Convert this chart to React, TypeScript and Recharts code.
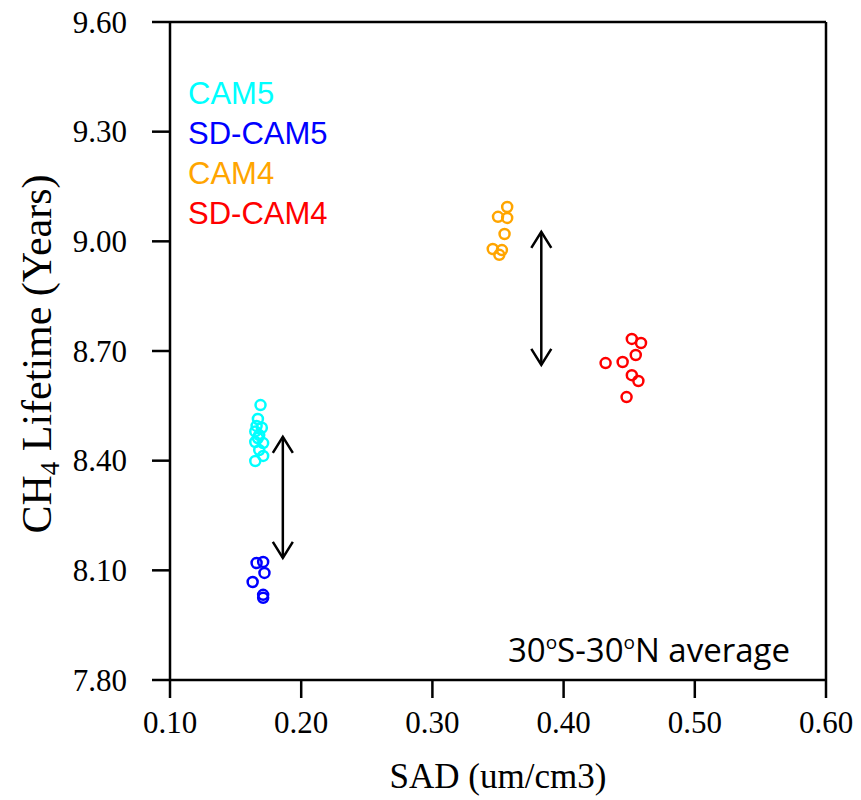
import React from "react";
import {
  ScatterChart,
  Scatter,
  XAxis,
  YAxis,
  ReferenceLine,
  Legend,
} from "recharts";

// SAD (um/cm3) and CH4 lifetime (years)
const cam5Sad = [0.169, 0.167, 0.166, 0.17, 0.165, 0.168, 0.167, 0.165, 0.171, 0.168, 0.171, 0.165];
const cam5Life = [8.552, 8.514, 8.495, 8.49, 8.48, 8.47, 8.462, 8.451, 8.448, 8.429, 8.413, 8.399];

const sdCam5Sad = [0.166, 0.171, 0.172, 0.163, 0.171, 0.171];
const sdCam5Life = [8.12, 8.123, 8.093, 8.068, 8.033, 8.025];

const cam4Sad = [0.357, 0.35, 0.357, 0.355, 0.346, 0.353, 0.351];
const cam4Life = [9.094, 9.067, 9.064, 9.02, 8.979, 8.976, 8.963];

const sdCam4Sad = [0.452, 0.459, 0.455, 0.432, 0.445, 0.452, 0.457, 0.448];
const sdCam4Life = [8.733, 8.722, 8.689, 8.667, 8.67, 8.634, 8.618, 8.574];

// double arrows: [sad, top, bottom]
const arrowCam5 = [0.186, 8.465, 8.134];
const arrowCam4 = [0.383, 9.026, 8.662];

const xTicks = [0.1, 0.2, 0.3, 0.4, 0.5, 0.6];
const yTicks = [7.8, 8.1, 8.4, 8.7, 9.0, 9.3, 9.6];

const toPoints = (xs: number[], ys: number[]) => xs.map((x, i) => ({ x, y: ys[i] }));

const series = [
  { name: "CAM5", color: "#00FFFF", data: toPoints(cam5Sad, cam5Life) },
  { name: "SD-CAM5", color: "#0000FF", data: toPoints(sdCam5Sad, sdCam5Life) },
  { name: "CAM4", color: "#FFA500", data: toPoints(cam4Sad, cam4Life) },
  { name: "SD-CAM4", color: "#FF0000", data: toPoints(sdCam4Sad, sdCam4Life) },
];

const serif = "'Liberation Serif', 'Times New Roman', serif";
const LW = 2.5;

const ring = (color: string) => (p: any) =>
  <circle cx={p.cx} cy={p.cy} r={5} fill="none" stroke={color} strokeWidth={2.5} />;

const Arrow = (p: any) => {
  const { x1, y1, x2, y2 } = p;
  const head = (x: number, y: number, dir: number) => (
    <polyline
      points={`${x - 10},${y + dir * 16} ${x},${y} ${x + 10},${y + dir * 16}`}
      fill="none"
      stroke="#000"
      strokeWidth={LW}
    />
  );
  const top = Math.min(y1, y2);
  const bot = Math.max(y1, y2);
  return (
    <g>
      <line x1={x1} y1={y1} x2={x2} y2={y2} stroke="#000" strokeWidth={LW} />
      {head(x1, top, 1)}
      {head(x1, bot, -1)}
    </g>
  );
};

const XTick = (p: any) => (
  <text x={p.x} y={p.y} dy="0.71em" textAnchor="middle" fontFamily={serif} fontSize={31} fill="#000">
    {p.payload.value.toFixed(2)}
  </text>
);

const YTick = (p: any) => (
  <text x={p.x} y={p.y} dy="0.34em" textAnchor="end" fontFamily={serif} fontSize={31} fill="#000">
    {p.payload.value.toFixed(2)}
  </text>
);

const YLabel = (props: any) => {
  const { viewBox } = props;
  const cx = 51;
  const cy = viewBox.y + viewBox.height / 2 + 3;
  return (
    <text
      x={cx}
      y={cy}
      transform={`rotate(-90, ${cx}, ${cy})`}
      textAnchor="middle"
      fontFamily={serif}
      fontSize={42}
      fill="#000"
    >
      CH<tspan fontSize={27} dy={8}>4</tspan>
      <tspan dy={-8}> Lifetime (Years)</tspan>
    </text>
  );
};

const XLabel = (props: any) => {
  const { viewBox } = props;
  return (
    <text
      x={viewBox.x + viewBox.width / 2}
      y={788}
      textAnchor="middle"
      fontFamily={serif}
      fontSize={35}
      fill="#000"
    >
      SAD (um/cm3)
    </text>
  );
};

const Note = (props: any) => {
  const { viewBox } = props;
  return (
    <text
      x={viewBox.x - 36}
      y={662}
      textAnchor="end"
      fontFamily="'Open Sans', sans-serif"
      fontSize={33}
      fill="#000"
    >
      30<tspan fontSize={19} dy={-13}>o</tspan>
      <tspan dy={13}>S-30</tspan>
      <tspan fontSize={19} dy={-13}>o</tspan>
      <tspan dy={13}>N average</tspan>
    </text>
  );
};

const LegendText = () => (
  <div style={{ fontFamily: "'Liberation Sans', Arial, sans-serif", fontSize: 31, lineHeight: "40px" }}>
    {series.map((s) => (
      <div key={s.name} style={{ color: s.color }}>
        {s.name}
      </div>
    ))}
  </div>
);

export default function App() {
  return (
    <div style={{ position: "absolute", left: 0, top: 0 }}>
      <ScatterChart width={861} height={800} margin={{ top: 0, right: 0, bottom: 0, left: 0 }}>
        <XAxis
          xAxisId="top"
          orientation="top"
          type="number"
          dataKey="x"
          domain={[0.1, 0.6]}
          ticks={[0.1, 0.6]}
          tick={false}
          tickSize={18}
          height={22}
          axisLine={{ stroke: "#000", strokeWidth: LW }}
          tickLine={{ stroke: "#000", strokeWidth: LW }}
        />
        <YAxis
          yAxisId="right"
          orientation="right"
          type="number"
          dataKey="y"
          domain={[7.8, 9.6]}
          ticks={[7.8, 9.6]}
          tick={false}
          tickSize={18}
          width={35}
          axisLine={{ stroke: "#000", strokeWidth: LW }}
          tickLine={{ stroke: "#000", strokeWidth: LW }}
          label={{ content: Note }}
        />
        <XAxis
          type="number"
          dataKey="x"
          domain={[0.1, 0.6]}
          ticks={xTicks}
          tickSize={18}
          tickMargin={13}
          height={120}
          tick={XTick}
          axisLine={{ stroke: "#000", strokeWidth: LW }}
          tickLine={{ stroke: "#000", strokeWidth: LW }}
          label={{ content: XLabel }}
        />
        <YAxis
          type="number"
          dataKey="y"
          domain={[7.8, 9.6]}
          ticks={yTicks}
          tickSize={18}
          tickMargin={25}
          width={170}
          tick={YTick}
          axisLine={{ stroke: "#000", strokeWidth: LW }}
          tickLine={{ stroke: "#000", strokeWidth: LW }}
          label={{ content: YLabel }}
        />
        <Legend
          layout="vertical"
          align="center"
          verticalAlign="middle"
          content={LegendText}
          wrapperStyle={{ position: "absolute", left: 188, top: 74, width: "auto" }}
        />
        {series.map((s) => (
          <Scatter
            key={s.name}
            name={s.name}
            data={s.data}
            fill={s.color}
            shape={ring(s.color)}
            isAnimationActive={false}
          />
        ))}
        <ReferenceLine
          segment={[
            { x: arrowCam5[0], y: arrowCam5[1] },
            { x: arrowCam5[0], y: arrowCam5[2] },
          ]}
          shape={Arrow}
        />
        <ReferenceLine
          segment={[
            { x: arrowCam4[0], y: arrowCam4[1] },
            { x: arrowCam4[0], y: arrowCam4[2] },
          ]}
          shape={Arrow}
        />
      </ScatterChart>
    </div>
  );
}
